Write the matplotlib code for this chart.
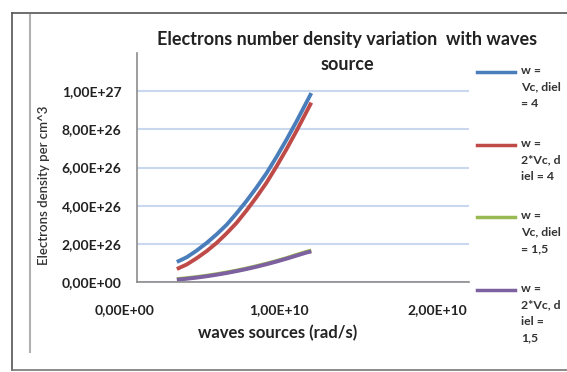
import matplotlib
matplotlib.use("Agg")
from matplotlib import pyplot
from matplotlib.lines import Line2D
import matplotlib.transforms as mtransforms

pyplot.rcParams['font.family'] = ['Lato', 'DejaVu Sans']

# data
w_values = [2.4e9, 3.0e9, 3.6e9, 4.2e9, 4.8e9, 5.4e9, 6.0e9, 6.6e9, 7.2e9, 7.8e9,
            8.4e9, 9.0e9, 9.6e9, 10.2e9, 10.5e9]
ne_vc_diel4 = [1.05e26, 1.3e26, 1.65e26, 2.05e26, 2.5e26, 3.0e26, 3.6e26, 4.25e26, 4.95e26, 5.7e26,
               6.55e26, 7.45e26, 8.4e26, 9.4e26, 9.9e26]
ne_2vc_diel4 = [0.68e26, 0.92e26, 1.25e26, 1.62e26, 2.05e26, 2.55e26, 3.1e26, 3.75e26, 4.45e26, 5.2e26,
                6.05e26, 6.95e26, 7.9e26, 8.9e26, 9.4e26]
ne_vc_diel15 = [0.15e26, 0.2e26, 0.26e26, 0.33e26, 0.41e26, 0.50e26, 0.60e26, 0.71e26, 0.83e26, 0.96e26,
                1.10e26, 1.25e26, 1.42e26, 1.58e26, 1.65e26]
ne_2vc_diel15 = [0.12e26, 0.17e26, 0.23e26, 0.30e26, 0.38e26, 0.47e26, 0.57e26, 0.68e26, 0.80e26, 0.93e26,
                 1.07e26, 1.22e26, 1.38e26, 1.54e26, 1.60e26]

series_labels = ["w =\nVc, diel\n= 4", "w =\n2*Vc, d\niel = 4",
                 "w =\nVc, diel\n= 1,5", "w =\n2*Vc, d\niel =\n1,5"]
series_colors = ["#4A7EBB", "#BE4B48", "#98B954", "#7D60A0"]

yticks = [0, 2e26, 4e26, 6e26, 8e26, 1e27]
ytick_labels = ["0,00E+00", "2,00E+26", "4,00E+26", "6,00E+26", "8,00E+26", "1,00E+27"]
xticks = [0, 1e10, 2e10]
xtick_labels = ["0,00E+00", "1,00E+10", "2,00E+10"]

W, H = 567, 372
fig = pyplot.figure(figsize=(W / 100, H / 100), dpi=100, facecolor='w')
ax = fig.add_axes([137 / W, 1 - 282 / H, (469 - 137) / W, (282 - 53) / H])

all_series = [ne_vc_diel4, ne_2vc_diel4, ne_vc_diel15, ne_2vc_diel15]
for ys, color in zip(all_series, series_colors):
    ax.plot(w_values, ys, color=color, lw=2.8, solid_capstyle='butt', solid_joinstyle='round')

ax.set_xlim(0, 2e10)
ax.set_ylim(0, 1.2e27)
ax.set_yticks(yticks)
ax.set_yticklabels(ytick_labels, fontsize=10, fontweight='bold', color='#222222')
ax.set_xticks(xticks)
ax.set_xticklabels(xtick_labels, fontsize=10, fontweight='bold', color='#222222')
ax.tick_params(axis='y', length=0, pad=11)
ax.tick_params(axis='x', length=0, pad=16)
# excel put the x labels a bit to the left of their ticks
for lab, dx in zip(ax.get_xticklabels(), [-12, -24, -32]):
    lab.set_transform(lab.get_transform() + mtransforms.ScaledTranslation(dx / 100, 0, fig.dpi_scale_trans))

ax.grid(axis='y', color='#C9D8EE', lw=1.5)
ax.set_axisbelow(True)
for s in ['top', 'right']:
    ax.spines[s].set_visible(False)
for s in ['left', 'bottom']:
    ax.spines[s].set_color('#8C8C8C')
    ax.spines[s].set_linewidth(1.2)

fig.text(347 / W, 1 - 40 / H, "Electrons number density variation  with waves",
         ha='center', va='center', fontsize=13, fontweight='bold', color='#222222')
fig.text(347 / W, 1 - 64 / H, "source",
         ha='center', va='center', fontsize=13, fontweight='bold', color='#222222')
fig.text(278 / W, 1 - 333 / H, "waves sources (rad/s)",
         ha='center', va='center', fontsize=12, fontweight='bold', color='#222222')
fig.text(44 / W, 1 - 185 / H, "Electrons density per cm^3", rotation=90,
         ha='center', va='center', fontsize=9.5, fontweight='semibold', color='#333333')

# legend
legend_y = [72, 145, 217, 290]
for lab, color, ly in zip(series_labels, series_colors, legend_y):
    fig.add_artist(Line2D([477 / W, 515 / W], [1 - ly / H, 1 - ly / H], color=color, lw=2.5))
    fig.text(521 / W, 1 - (ly - 7) / H, lab, ha='left', va='top', fontsize=8.8,
             fontweight='bold', color='#333333', linespacing=1.62)

# outer frame of the pasted picture
fig.add_artist(Line2D([12 / W, 1], [1 - 13 / H, 1 - 13 / H], color='#555555', lw=1.2))
fig.add_artist(Line2D([12 / W, 12 / W], [1 - 13 / H, 1 - 370 / H], color='#555555', lw=1.2))
fig.add_artist(Line2D([12 / W, 1], [1 - 370 / H, 1 - 370 / H], color='#777777', lw=1.2))
fig.add_artist(Line2D([30 / W, 30 / W], [1 - 15 / H, 1 - 352 / H], color='#B0B0B0', lw=1.5))

pyplot.savefig("out.png", dpi=100, facecolor='w')
